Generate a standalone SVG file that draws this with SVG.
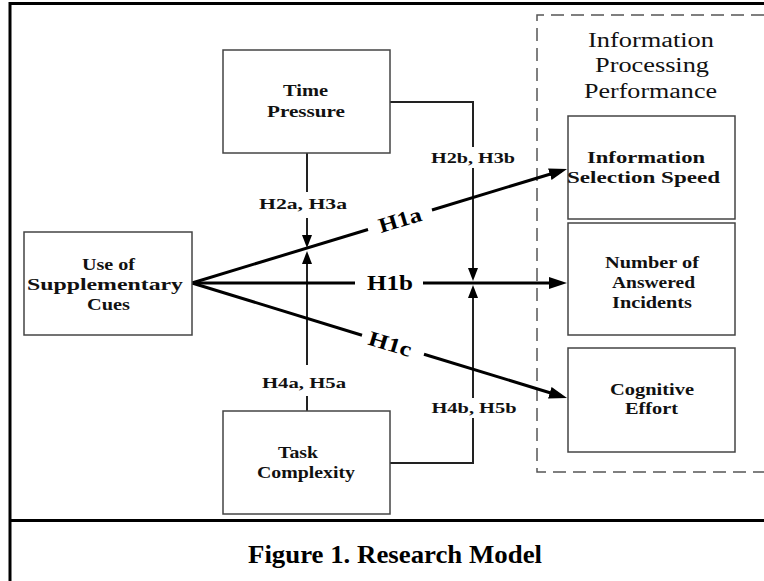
<svg xmlns="http://www.w3.org/2000/svg" width="764" height="581" viewBox="0 0 764 581">
<style>
.frame{stroke:#000;stroke-width:3;fill:none}
.box{fill:#fff;stroke:#444;stroke-width:1.5}
.dash{fill:none;stroke:#555;stroke-width:1.5;stroke-dasharray:13 7}
.main{stroke:#000;stroke-width:3;fill:none}
.mod{stroke:#222;stroke-width:2;fill:none}
.nt{font-family:"Liberation Serif","Times New Roman",serif;font-weight:bold;font-size:17px;fill:#111;text-anchor:middle}
.hl{font-family:"Liberation Serif","Times New Roman",serif;font-weight:bold;font-size:15px;fill:#111;text-anchor:middle}
.hb{font-family:"Liberation Serif","Times New Roman",serif;font-weight:bold;font-size:21px;fill:#000;text-anchor:middle}
.ti{font-family:"Liberation Serif","Times New Roman",serif;font-size:20px;fill:#111;text-anchor:middle}
.cap{font-family:"Liberation Serif","Times New Roman",serif;font-weight:bold;font-size:26px;fill:#000;text-anchor:middle}
</style>
<defs>
<marker id="big" markerUnits="userSpaceOnUse" markerWidth="18" markerHeight="12" refX="12" refY="6" orient="auto">
<path d="M0,0 L18,6 L0,12 z" fill="#000"/>
</marker>
<marker id="small" markerUnits="userSpaceOnUse" markerWidth="13" markerHeight="10" refX="9" refY="5" orient="auto">
<path d="M0,0 L13,5 L0,10 z" fill="#000"/>
</marker>
</defs>
<rect width="764" height="581" fill="#fff"/>
<g id="frame">
<line class="frame" x1="9" y1="3.5" x2="764" y2="3.5"/>
<line class="frame" x1="10" y1="2" x2="10" y2="581"/>
<line class="frame" x1="10" y1="520.5" x2="764" y2="520.5"/>
</g>
<g id="performance-group">
<path class="dash" d="M764,15 H537 V472 H764"/>
<text class="ti" x="651" y="47" textLength="126" lengthAdjust="spacingAndGlyphs">Information</text>
<text class="ti" x="652" y="72" textLength="114" lengthAdjust="spacingAndGlyphs">Processing</text>
<text class="ti" x="650.5" y="98" textLength="133" lengthAdjust="spacingAndGlyphs">Performance</text>
</g>
<g id="connectors">
<line class="mod" x1="307" y1="153" x2="307" y2="192"/>
<line class="mod" x1="307" y1="218" x2="307" y2="244" marker-end="url(#small)"/>
<line class="mod" x1="307" y1="411" x2="307" y2="396"/>
<line class="mod" x1="307" y1="365" x2="307" y2="255" marker-end="url(#small)"/>
<polyline class="mod" points="390,102 473,102 473,147"/>
<line class="mod" x1="473" y1="168" x2="473" y2="277" marker-end="url(#small)"/>
<polyline class="mod" points="390,463 473,463 473,418"/>
<line class="mod" x1="473" y1="398" x2="473" y2="289" marker-end="url(#small)"/>
<line class="main" x1="192" y1="283" x2="368" y2="229.5"/>
<line class="main" x1="432" y1="210" x2="561.3" y2="170.7" marker-end="url(#big)"/>
<line class="main" x1="192" y1="283" x2="355" y2="283"/>
<line class="main" x1="423" y1="283" x2="561" y2="283" marker-end="url(#big)"/>
<line class="main" x1="192" y1="283" x2="362" y2="335.2"/>
<line class="main" x1="424" y1="354.2" x2="561.3" y2="396.2" marker-end="url(#big)"/>
<text class="hl" x="303" y="209" textLength="88" lengthAdjust="spacingAndGlyphs">H2a, H3a</text>
<text class="hl" x="304" y="388" textLength="84" lengthAdjust="spacingAndGlyphs">H4a, H5a</text>
<text class="hl" x="473" y="163" textLength="84" lengthAdjust="spacingAndGlyphs">H2b, H3b</text>
<text class="hl" x="474" y="413" textLength="85" lengthAdjust="spacingAndGlyphs">H4b, H5b</text>
<text class="hb" x="390" y="290" textLength="46" lengthAdjust="spacingAndGlyphs">H1b</text>
<text class="hb" x="0" y="7" transform="translate(400,220) rotate(-16.9)" textLength="44" lengthAdjust="spacingAndGlyphs">H1a</text>
<text class="hb" x="0" y="7" transform="translate(390,344) rotate(17.1)" textLength="44" lengthAdjust="spacingAndGlyphs">H1c</text>
</g>
<g id="time-pressure">
<rect class="box" x="223" y="50" width="167" height="103"/>
<text class="nt" x="305.5" y="96" textLength="45" lengthAdjust="spacingAndGlyphs">Time</text>
<text class="nt" x="306" y="117" textLength="78" lengthAdjust="spacingAndGlyphs">Pressure</text>
</g>
<g id="supplementary-cues">
<rect class="box" x="24" y="232" width="168" height="103"/>
<text class="nt" x="108.5" y="270" textLength="53" lengthAdjust="spacingAndGlyphs">Use of</text>
<text class="nt" x="105" y="290" textLength="156" lengthAdjust="spacingAndGlyphs">Supplementary</text>
<text class="nt" x="108.5" y="310" textLength="43" lengthAdjust="spacingAndGlyphs">Cues</text>
</g>
<g id="task-complexity">
<rect class="box" x="223" y="411" width="167" height="103"/>
<text class="nt" x="298" y="458" textLength="40" lengthAdjust="spacingAndGlyphs">Task</text>
<text class="nt" x="306" y="478" textLength="98" lengthAdjust="spacingAndGlyphs">Complexity</text>
</g>
<g id="selection-speed">
<rect class="box" x="568" y="116" width="167" height="103"/>
<text class="nt" x="646" y="163" textLength="118" lengthAdjust="spacingAndGlyphs">Information</text>
<text class="nt" x="643.5" y="183" textLength="153" lengthAdjust="spacingAndGlyphs">Selection Speed</text>
</g>
<g id="answered-incidents">
<rect class="box" x="568" y="223" width="167" height="112"/>
<text class="nt" x="652" y="268" textLength="94" lengthAdjust="spacingAndGlyphs">Number of</text>
<text class="nt" x="653.5" y="288" textLength="83" lengthAdjust="spacingAndGlyphs">Answered</text>
<text class="nt" x="652" y="308" textLength="80" lengthAdjust="spacingAndGlyphs">Incidents</text>
</g>
<g id="cognitive-effort">
<rect class="box" x="568" y="348" width="167" height="104"/>
<text class="nt" x="652" y="395" textLength="84" lengthAdjust="spacingAndGlyphs">Cognitive</text>
<text class="nt" x="651.5" y="414" textLength="53" lengthAdjust="spacingAndGlyphs">Effort</text>
</g>
<g id="caption">
<text class="cap" x="395" y="563" textLength="294" lengthAdjust="spacingAndGlyphs">Figure 1. Research Model</text>
</g>
</svg>
